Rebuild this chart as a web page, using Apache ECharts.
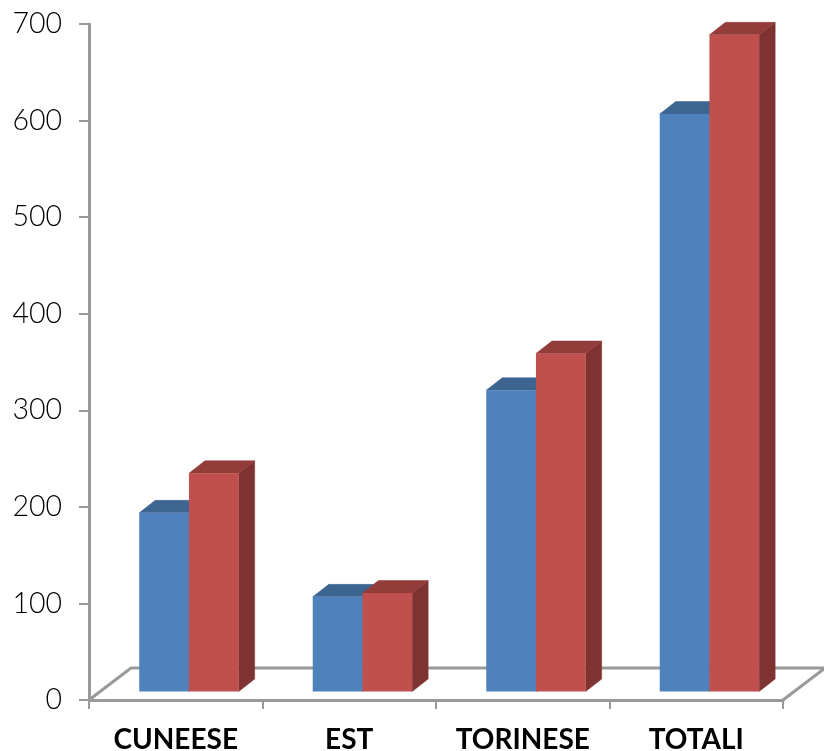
<!DOCTYPE html>
<html>
<head>
<meta charset="utf-8">
<style>html,body{margin:0;padding:0;background:#fff}#c{width:824px;height:751px}</style>
<script src="https://cdn.jsdelivr.net/npm/echarts@6/dist/echarts.min.js"></script>
</head>
<body>
<div id="c"></div>
<script>
var categories = ['CUNEESE', 'EST', 'TORINESE', 'TOTALI'];
var blueValues = [185, 98, 312, 598];
var redValues = [226, 102, 350, 680];
var yTicks = [0, 100, 200, 300, 400, 500, 600, 700];

var DEPTH_X = 16, DEPTH_Y = 12.5, SHIFT_X = 13.2, SHIFT_Y = 8.5, BAR_RATIO = 0.2865;
var FLOOR_X = 42, FLOOR_Y = 32;

function poly(points, fill) {
  return { type: 'polygon', shape: { points: points }, style: { fill: fill, stroke: fill, lineWidth: 0.5 } };
}
function barRenderer(side, front, top, right) {
  return function (params, api) {
    var c = api.coord([api.value(0), api.value(1)]);
    var z = api.coord([api.value(0), 0]);
    var w = api.size([1, 0])[0] * BAR_RATIO;
    var x0 = c[0] + SHIFT_X + side * w, x1 = x0 + w;
    var yt = c[1] - SHIFT_Y, yb = z[1] - SHIFT_Y;
    return {
      type: 'group',
      children: [
        poly([[x1, yt], [x1 + DEPTH_X, yt - DEPTH_Y], [x1 + DEPTH_X, yb - DEPTH_Y], [x1, yb]], right),
        poly([[x0, yt], [x0 + DEPTH_X, yt - DEPTH_Y], [x1 + DEPTH_X, yt - DEPTH_Y], [x1, yt]], top),
        {
          type: 'rect',
          shape: { x: x0, y: yt, width: w, height: yb - yt },
          style: { fill: front }
        }
      ]
    };
  };
}
function floorRenderer(params) {
  var s = params.coordSys;
  var l = s.x, r = s.x + s.width, b = s.y + s.height;
  return {
    type: 'polyline',
    shape: { points: [[l, b], [l + FLOOR_X, b - FLOOR_Y], [r + FLOOR_X, b - FLOOR_Y], [r, b]] },
    style: { fill: null, stroke: '#999999', lineWidth: 3 }
  };
}

var chart = echarts.init(document.getElementById('c'), null, { renderer: 'canvas' });
chart.setOption({
  animation: false,
  backgroundColor: '#ffffff',
  grid: { left: 89, top: 24, width: 694, height: 676, containLabel: false, outerBoundsMode: 'none' },
  xAxis: {
    type: 'category',
    data: categories,
    axisLine: { show: true, lineStyle: { color: '#999999', width: 3 } },
    axisTick: { show: true, alignWithLabel: false, length: 9, lineStyle: { color: '#999999', width: 2 } },
    axisLabel: { interval: 0, margin: 26, color: '#000', fontFamily: 'Lato', fontWeight: 'bold', fontSize: 28 },
    splitLine: { show: false }
  },
  yAxis: {
    type: 'value',
    min: yTicks[0],
    max: yTicks[yTicks.length - 1],
    interval: 100,
    axisLine: { show: true, lineStyle: { color: '#999999', width: 3 } },
    axisTick: { show: true, length: 10, lineStyle: { color: '#999999', width: 2 } },
    axisLabel: { margin: 27, padding: [6, 0, 0, 0], color: '#000', fontFamily: 'Lato', fontWeight: 300, fontSize: 28.5 },
    splitLine: { show: false }
  },
  series: [
    { type: 'custom', name: 'floor', data: [[0, 0]], renderItem: floorRenderer, clip: false, silent: true, z: 1 },
    {
      type: 'custom', name: 'A', clip: false, z: 2,
      encode: { x: 0, y: 1 },
      data: blueValues.map(function (v, i) { return [i, v]; }),
      renderItem: barRenderer(-1, '#4f81bd', '#3d6592', '#39587f')
    },
    {
      type: 'custom', name: 'B', clip: false, z: 3,
      encode: { x: 0, y: 1 },
      data: redValues.map(function (v, i) { return [i, v]; }),
      renderItem: barRenderer(0, '#c0504d', '#933c3a', '#7e3231')
    }
  ]
});
</script>
</body>
</html>
